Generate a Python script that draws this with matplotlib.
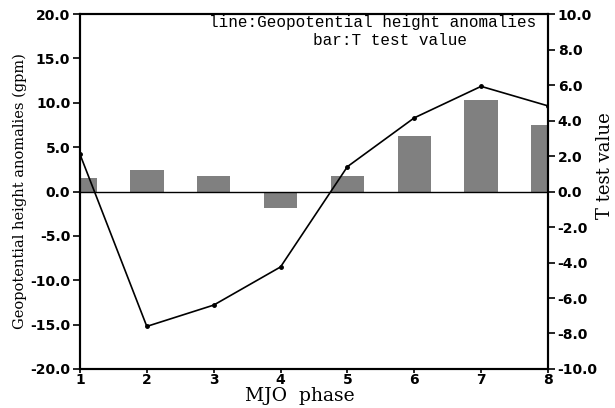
import matplotlib.pyplot as plt

# data
phase = [1, 2, 3, 4, 5, 6, 7, 8]
gph_anom = [4.2, -15.2, -12.8, -8.5, 2.8, 8.3, 11.85, 9.65]
t_value = [0.74, 1.21, 0.87, -0.91, 0.87, 3.13, 5.15, 3.75]

left_ticks = [-20, -15, -10, -5, 0, 5, 10, 15, 20]
right_ticks = [-10, -8, -6, -4, -2, 0, 2, 4, 6, 8, 10]

tick_font = {"family": "DejaVu Sans", "weight": "bold", "size": 10}
serif = "DejaVu Serif"
mono = "Liberation Mono"

fig = plt.figure(figsize=(6.15, 4.08), dpi=100)
ax = fig.add_axes([0.130, 0.0956, 0.761, 0.870])
ax2 = ax.twinx()

# bars on the right (T test) axis
ax2.bar(phase, t_value, width=0.5, color="#808080", zorder=1)
ax2.set_ylim(-10, 10)
ax2.set_yticks(right_ticks)
ax2.set_yticklabels(["%.1f" % v for v in right_ticks], fontdict=tick_font)

# line on the left (geopotential) axis, drawn on top
ax.set_zorder(ax2.get_zorder() + 1)
ax.patch.set_visible(False)
ax.axhline(0, color="black", lw=1.0)
ax.plot(phase, gph_anom, color="black", lw=1.2, marker="o", ms=2.5)
ax.set_xlim(1, 8)
ax.set_ylim(-20, 20)
ax.set_yticks(left_ticks)
ax.set_yticklabels(["%.1f" % v for v in left_ticks], fontdict=tick_font)
ax.set_xticks(phase)
ax.set_xticklabels([str(p) for p in phase], fontdict=tick_font)
ax.set_ylabel("Geopotential height anomalies (gpm)", family=serif, size=10.5, labelpad=2)

for a in (ax, ax2):
    for s in a.spines.values():
        s.set_linewidth(1.5)
ax.tick_params(axis="y", direction="out", length=5, width=1.2, pad=2)
ax.tick_params(axis="x", direction="out", length=3, width=1.2, pad=0)
ax2.tick_params(axis="y", direction="out", length=5, width=1.2, pad=2)

# axis titles placed to match the reference
fig.text(300 / 615, 1 - 396 / 408, "MJO  phase", family=serif, size=13.5,
         ha="center", va="center")
fig.text(605 / 615, 1 - 166 / 408, "T test value", family=serif, size=13,
         rotation=90, ha="center", va="center")

ax.text(0.974, 0.997, "line:Geopotential height anomalies", transform=ax.transAxes,
        ha="right", va="top", family=mono, size=11.5)
ax.text(0.498, 0.947, "bar:T test value", transform=ax.transAxes,
        ha="left", va="top", family=mono, size=11.5)

fig.savefig("out.png", dpi=100)
